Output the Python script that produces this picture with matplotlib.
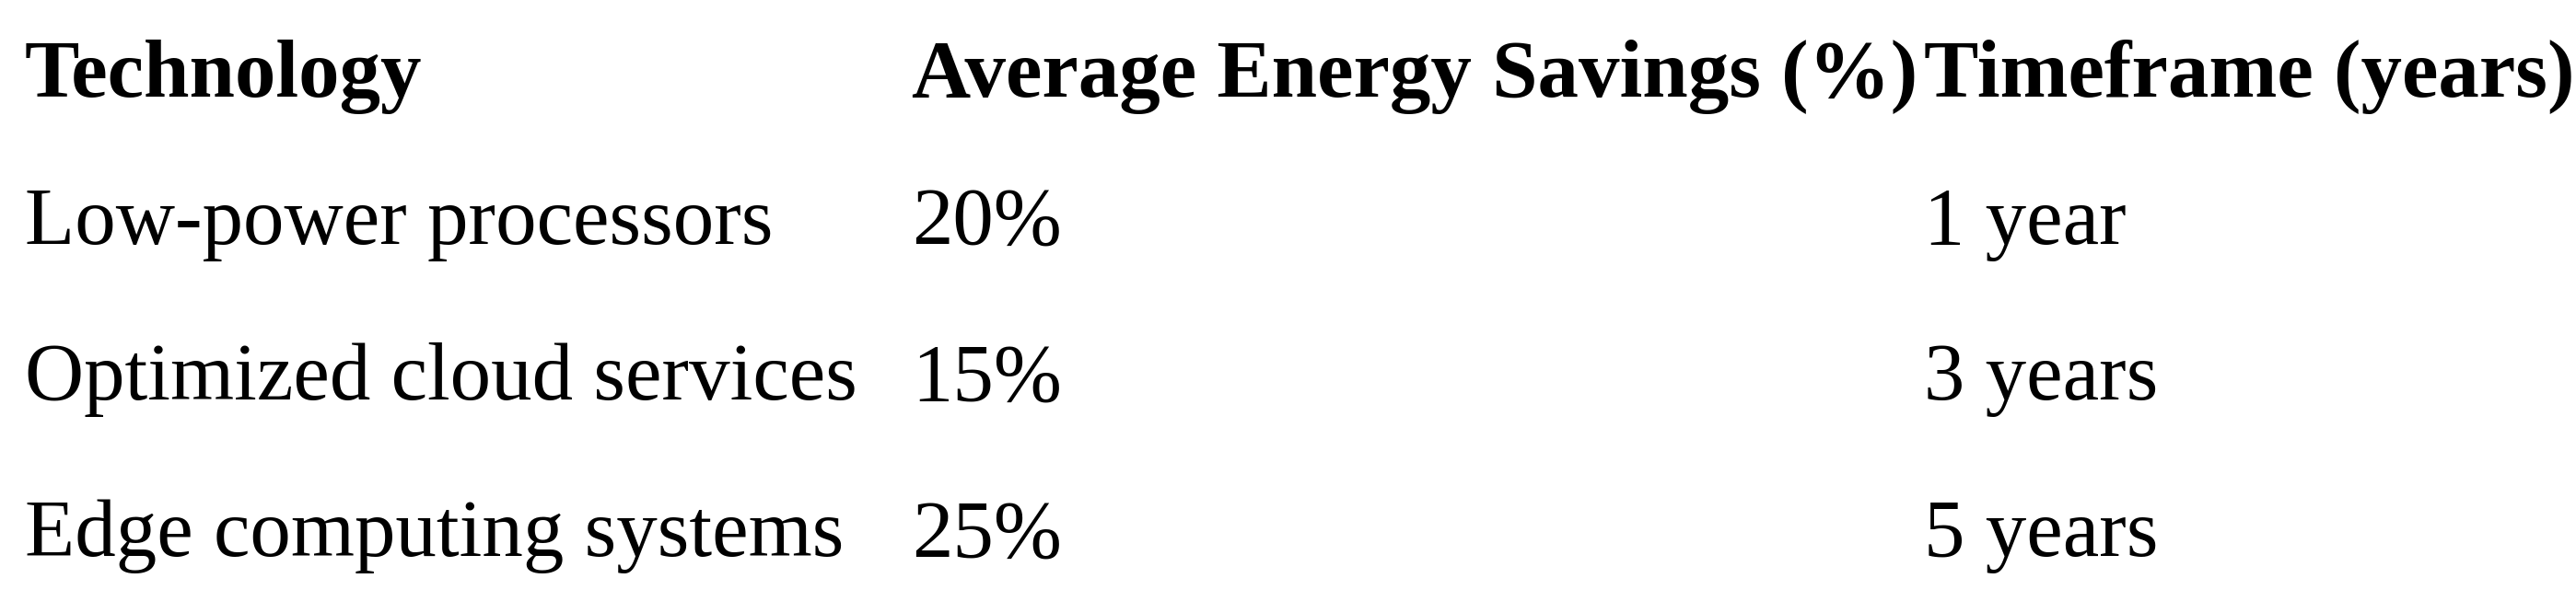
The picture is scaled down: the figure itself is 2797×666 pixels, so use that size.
import matplotlib
matplotlib.use("Agg")
import matplotlib.pyplot as plt

headers = ["Technology", "Average Energy Savings (%)", "Timeframe (years)"]
technologies = ["Low-power processors", "Optimized cloud services", "Edge computing systems"]
savings = [20, 15, 25]
timeframes = [1, 3, 5]

col_x = [0.0096, 0.354, 0.747]
row_y = [0.875, 0.635, 0.38, 0.125]
fs = 64

fig = plt.figure(figsize=(27.97, 6.66), dpi=100)
fig.patch.set_facecolor("white")

for x, h in zip(col_x, headers):
    fig.text(x, row_y[0], h, fontsize=fs, fontweight="bold", family="Liberation Serif",
             ha="left", va="center")

for i, (tech, s, t) in enumerate(zip(technologies, savings, timeframes)):
    y = row_y[i + 1]
    label = f"{t} year" if t == 1 else f"{t} years"
    for x, txt in zip(col_x, [tech, f"{s}%", label]):
        fig.text(x, y, txt, fontsize=fs, family="Liberation Serif", ha="left", va="center")

fig.savefig("out.png", dpi=100, facecolor="white")
